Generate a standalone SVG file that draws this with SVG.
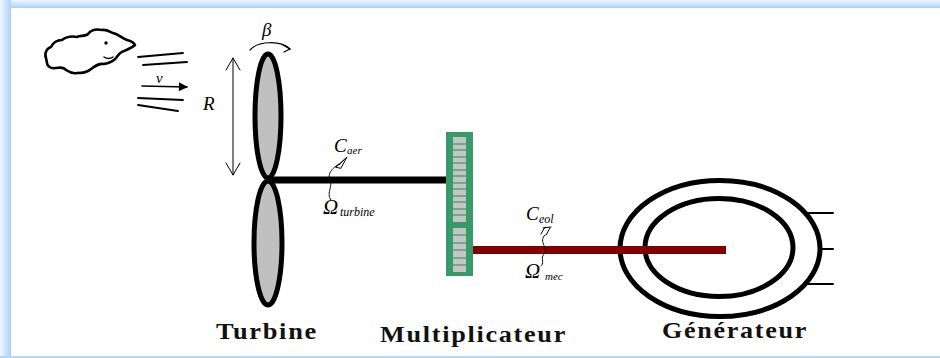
<svg xmlns="http://www.w3.org/2000/svg" width="940" height="358" viewBox="0 0 940 358">
  <defs>
    <linearGradient id="bandTop" x1="0" y1="0" x2="0" y2="1">
      <stop offset="0" stop-color="#eef6fe"/>
      <stop offset="1" stop-color="#a6d2fb"/>
    </linearGradient>
    <linearGradient id="bandLeft" x1="0" y1="0" x2="1" y2="0">
      <stop offset="0" stop-color="#f2f8fe"/>
      <stop offset="1" stop-color="#a6d2fb"/>
    </linearGradient>
    <marker id="solidHead" viewBox="0 0 10 10" refX="9" refY="5" markerWidth="12" markerHeight="9" markerUnits="userSpaceOnUse" orient="auto">
      <path d="M0,0 L10,5 L0,10 Z" fill="#000"/>
    </marker>
  </defs>
  <style>
    .ink { fill: none; stroke: #000; stroke-linecap: round; stroke-linejoin: round; }
    .math { font-family: "Liberation Serif", "DejaVu Serif", serif; font-style: italic; fill: #000; }
    .label { font-family: "Liberation Serif", "DejaVu Serif", serif; font-weight: bold; font-size: 23px; letter-spacing: 1.5px; fill: #111; }
    .blade { fill: #c0c0c0; stroke: #000; stroke-width: 5; }
    .cell { fill: #c4c4c4; }
    .sep { stroke: #3a9a68; stroke-width: 1.2; }
  </style>

  <!-- page frame -->
  <rect x="0" y="0" width="940" height="358" fill="#fff"/>
  <rect x="0" y="0" width="940" height="8" fill="url(#bandTop)"/>
  <rect x="0" y="0" width="11" height="358" fill="url(#bandLeft)"/>
  <rect x="0" y="356" width="940" height="2" fill="#b3d9fa"/>

  <!-- wind: cloud, streamlines and speed arrow -->
  <g id="wind">
    <path class="ink" stroke-width="2.6" d="M46,58 C44,53 47,48 51,47 C53,43 57,40 62,40 C66,37 72,36 77,37 C80,35 85,37 88,34 C91,30 97,29 102,30 C107,29 110,32 113,33 C118,34 122,38 127,40 C131,41 134,43 135,45 C132,48 128,49 124,51 C120,52 118,55 116,58 C113,62 109,63 104,64 C99,63 95,66 91,69 C87,73 82,73 77,73 C72,74 69,72 66,70 C63,66 59,68 55,68 C51,69 47,66 47,63 Z"/>
    <circle cx="106" cy="43" r="1.7" fill="#000"/>
    <path class="ink" stroke-width="1.4" d="M104,57 C107,59 110,59 113,57"/>
    <line class="ink" stroke-width="1.8" x1="138" y1="57" x2="183" y2="53"/>
    <line class="ink" stroke-width="1.8" x1="143" y1="65" x2="187" y2="62"/>
    <line class="ink" stroke-width="1.6" x1="142" y1="86" x2="187" y2="87" marker-end="url(#solidHead)"/>
    <line class="ink" stroke-width="1.8" x1="138" y1="98" x2="183" y2="100"/>
    <line class="ink" stroke-width="1.8" x1="138" y1="105" x2="178" y2="111"/>
    <text class="math" x="156" y="83" font-size="15">v</text>
  </g>

  <!-- turbine: two blades, pitch angle and radius -->
  <g id="turbine">
    <ellipse class="blade" cx="268" cy="116" rx="13" ry="62"/>
    <ellipse class="blade" cx="268" cy="243" rx="14" ry="62"/>
    <path class="ink" stroke-width="1.2" d="M250,50 C258,41 280,40 290,49"/>
    <path class="ink" stroke-width="1.2" d="M283,45 L290,49 L284,52"/>
    <text class="math" x="262" y="36" font-size="19">β</text>
    <line class="ink" stroke-width="1" x1="233" y1="58" x2="233" y2="175"/>
    <path class="ink" stroke-width="1" d="M226,70 L233,58 L240,70"/>
    <path class="ink" stroke-width="1" d="M226,163 L233,175 L240,163"/>
    <text class="math" x="203" y="110" font-size="19">R</text>
    <text class="label" x="216" y="339" textLength="102" lengthAdjust="spacingAndGlyphs">Turbine</text>
  </g>

  <!-- gearbox -->
  <g id="multiplicateur">
    <rect x="446" y="132" width="27" height="144" fill="#379a69"/>
    <rect class="cell" x="453" y="137" width="13" height="85"/>
    <rect class="cell" x="453" y="228" width="13" height="44"/>
    <g class="sep">
      <line x1="453" y1="144" x2="466" y2="144"/>
      <line x1="453" y1="150" x2="466" y2="150"/>
      <line x1="453" y1="157" x2="466" y2="157"/>
      <line x1="453" y1="163" x2="466" y2="163"/>
      <line x1="453" y1="170" x2="466" y2="170"/>
      <line x1="453" y1="176" x2="466" y2="176"/>
      <line x1="453" y1="183" x2="466" y2="183"/>
      <line x1="453" y1="189" x2="466" y2="189"/>
      <line x1="453" y1="196" x2="466" y2="196"/>
      <line x1="453" y1="202" x2="466" y2="202"/>
      <line x1="453" y1="209" x2="466" y2="209"/>
      <line x1="453" y1="215" x2="466" y2="215"/>
      <line x1="453" y1="235" x2="466" y2="235"/>
      <line x1="453" y1="243" x2="466" y2="243"/>
      <line x1="453" y1="250" x2="466" y2="250"/>
      <line x1="453" y1="258" x2="466" y2="258"/>
      <line x1="453" y1="265" x2="466" y2="265"/>
    </g>
    <text class="label" x="380" y="342" textLength="187" lengthAdjust="spacingAndGlyphs">Multiplicateur</text>
  </g>

  <!-- generator -->
  <g id="generateur">
    <ellipse cx="720" cy="248.5" rx="100" ry="68" fill="none" stroke="#000" stroke-width="5"/>
    <ellipse cx="719" cy="247.5" rx="74" ry="49" fill="none" stroke="#000" stroke-width="5"/>
    <line class="ink" stroke-width="2" x1="806" y1="213" x2="833" y2="213"/>
    <line class="ink" stroke-width="2" x1="821" y1="249" x2="833" y2="249"/>
    <line class="ink" stroke-width="2" x1="806" y1="284" x2="833" y2="284"/>
    <text class="label" x="662" y="338" textLength="146" lengthAdjust="spacingAndGlyphs">Générateur</text>
  </g>

  <!-- shafts with torque / speed annotations -->
  <g id="connectors">
    <rect x="268" y="176.5" width="178" height="7" fill="#000"/>
    <rect x="473" y="246" width="253" height="8" fill="#800000"/>

    <path class="ink" stroke-width="1" stroke-dasharray="2 1" d="M331,200 C326,193 333,187 330,180 C327,173 333,168 339,164"/>
    <path class="ink" stroke-width="1" d="M336,167 L347,157 L341,168 Z M339,165 L344,160"/>
    <text class="math" x="334" y="152" font-size="19">C</text>
    <text class="math" x="347" y="154" font-size="11">aer</text>
    <text class="math" x="323" y="214" font-size="21">Ω</text>
    <text class="math" x="340" y="216" font-size="12">turbine</text>

    <path class="ink" stroke-width="1" stroke-dasharray="2 1" d="M545,235 C538,242 549,248 544,254 C540,259 545,262 541,266"/>
    <path class="ink" stroke-width="1" d="M541,234 L545,227 M546,235 L550,228 M543,228 L551,227"/>
    <text class="math" x="526" y="220" font-size="19">C</text>
    <text class="math" x="539" y="223" font-size="12">eol</text>
    <text class="math" x="525" y="278" font-size="21">Ω</text>
    <text class="math" x="545" y="280" font-size="11">mec</text>
  </g>
</svg>
